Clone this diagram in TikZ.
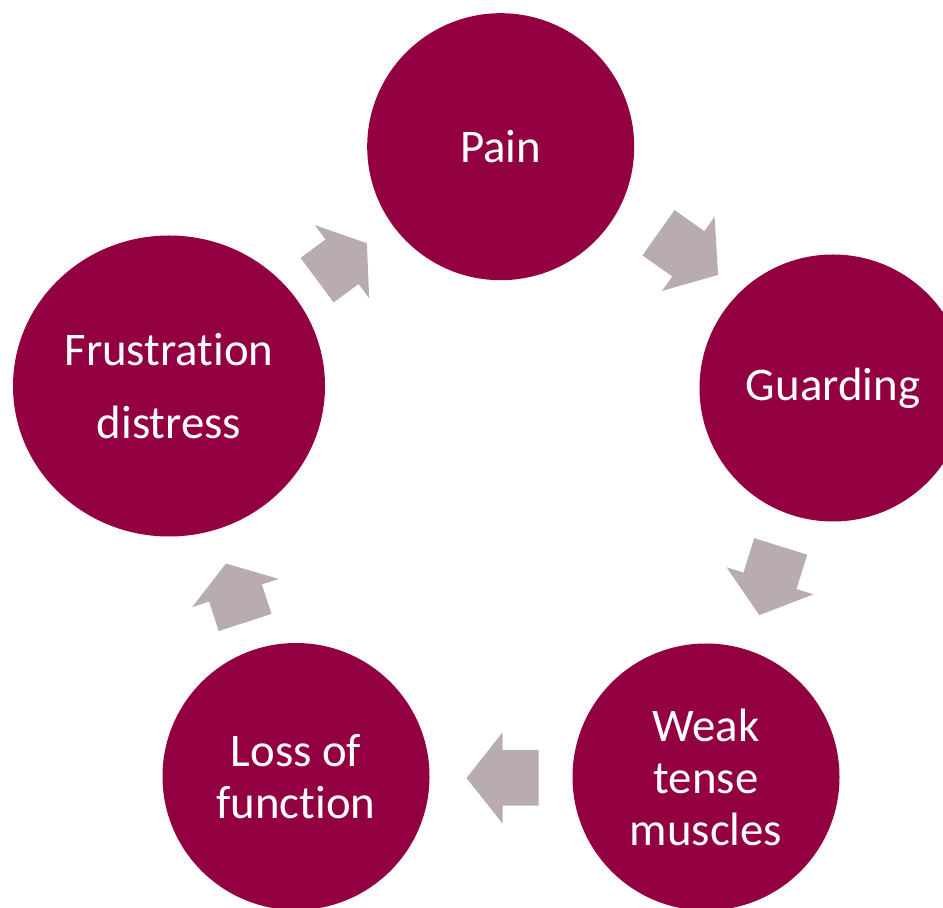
\documentclass[tikz,border=0pt]{standalone}
\usepackage{fontspec}
\setmainfont{Carlito}[Ligatures={NoCommon}]
\usetikzlibrary{shapes.geometric}
\definecolor{wine}{RGB}{147,0,66}
\definecolor{arrowgray}{RGB}{185,172,175}
\tikzset{
  stage/.style={circle, fill=wine, text=white, minimum size=267pt, inner sep=0pt,
    align=center, font=\fontsize{46.8}{52}\selectfont},
  pics/blockarrow/.style 2 args={code={
    \fill[arrowgray] (-#1/2,-27.75) -- (#1/2-#2,-27.75) -- (#1/2-#2,-45.5) -- (#1/2,0)
      -- (#1/2-#2,45.5) -- (#1/2-#2,27.75) -- (-#1/2,27.75) -- cycle;
  }}
}
\begin{document}
\begin{tikzpicture}[x=1pt,y=1pt]
\useasboundingbox (0,0) rectangle (943,908);
\clip (0,0) rectangle (943,908);
\node[stage] (pain) at (500.7,761.3) {Pain};
\node[stage] (guard) at (833,520) {Guarding};
\node[stage] (weak) at (706,131) {Weak\\tense\\muscles};
\node[stage] (loss) at (296,131.5) {Loss of\\function};
\node[stage, ellipse, minimum width=312pt, minimum height=301pt] (frus) at (169,522) {Frustration\\[21pt]distress};
\pic[rotate=36.6] (arrA) at (342,646.3) {blockarrow={62}{31}};
\pic[rotate=-35.3] (arrB) at (688.3,654.2) {blockarrow={73}{36.5}};
\pic[rotate=-107.3] (arrC) at (770,327.2) {blockarrow={72}{36}};
\pic[rotate=180] (arrD) at (502.5,130) {blockarrow={72}{36}};
\pic[rotate=108] (arrE) at (235.5,315) {blockarrow={62}{31}};
\end{tikzpicture}
\end{document}
